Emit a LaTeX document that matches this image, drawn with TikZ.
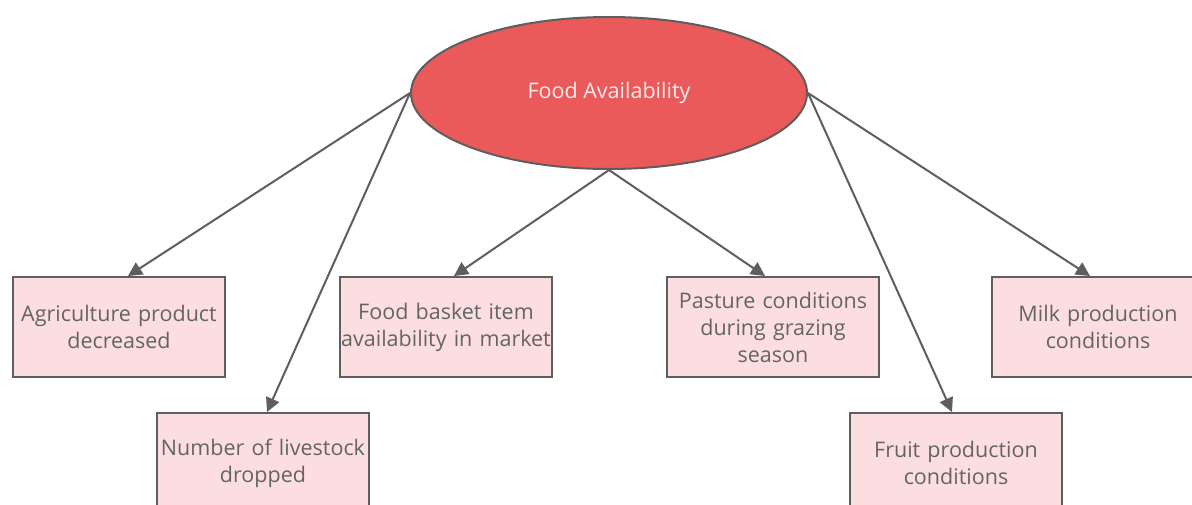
\documentclass[tikz,border=0pt]{standalone}
\usepackage{fontspec}
\setmainfont{Open Sans}
\usetikzlibrary{shapes.geometric,arrows.meta}
\definecolor{lc}{RGB}{94,94,94}
\definecolor{ellfill}{RGB}{235,90,90}
\definecolor{boxfill}{RGB}{252,222,224}
\definecolor{tc}{RGB}{100,100,100}
\definecolor{wt}{RGB}{253,235,235}
\tikzset{
  main/.style={ellipse, draw=lc, line width=2pt, fill=ellfill, minimum width=396pt, minimum height=152pt, inner sep=0pt, text=wt, font=\fontsize{21.5}{27}\selectfont},
  leaf/.style={rectangle, draw=lc, line width=2pt, fill=boxfill, minimum width=212pt, minimum height=100pt, text width=212pt, align=center, inner sep=0pt, text=tc, font=\fontsize{21.5}{27}\selectfont},
  arr/.style={draw=lc, line width=2pt, -{Triangle[length=14pt,width=14pt]}}
}
\begin{document}
\begin{tikzpicture}[x=1pt,y=-1pt]
\useasboundingbox (0,0) rectangle (1192,504);
\begin{scope}
\clip (0,0) rectangle (1192,504);
\node[main] (ell) at (609,93) {Food Availability};
\node[leaf] (agri) at (119,327) {Agriculture product\\decreased};
\node[leaf] (live) at (263,463) {Number of livestock\\dropped};
\node[leaf] (food) at (446,327) {Food basket item\\availability in market};
\node[leaf] (past) at (773,327) {Pasture conditions\\during grazing\\season};
\node[leaf] (milk) at (1098,327) {Milk production\\conditions};
\node[leaf] (fruit) at (956,463) {Fruit production\\conditions};
\draw[arr] (ell.west) -- ([xshift=9pt]agri.north);
\draw[arr] (ell.west) -- ([xshift=4pt]live.north);
\draw[arr] (ell.south) -- ([xshift=8pt]food.north);
\draw[arr] (ell.south) -- ([xshift=-8pt]past.north);
\draw[arr] (ell.east) -- ([xshift=-4pt]fruit.north);
\draw[arr] (ell.east) -- ([xshift=-8pt]milk.north);
\end{scope}
\end{tikzpicture}
\end{document}
